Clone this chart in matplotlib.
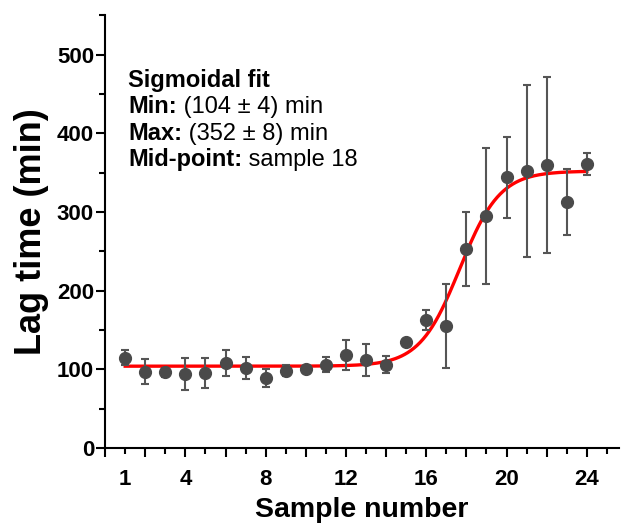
import matplotlib.pyplot as plt
import numpy as np

samples = np.arange(1, 25)
lag_time = [115, 97, 96, 94, 95, 108, 102, 89, 98, 101, 106, 118,
            112, 106, 135, 163, 155, 253, 295, 344, 352, 360, 313, 361]
lag_err = [10, 16, 6, 20, 19, 16, 14, 12, 7, 3, 10, 19,
           20, 11, 2, 13, 53, 47, 86, 52, 109, 112, 42, 14]

# sigmoidal fit parameters
fit_min = 104
fit_max = 352
fit_mid = 17.67
fit_slope = 1.0

x_labels = [1, 4, 8, 12, 16, 20, 24]

plt.rcParams["font.family"] = ["Liberation Sans", "DejaVu Sans"]

fig = plt.figure(figsize=(6.22, 5.25), dpi=100)
ax = fig.add_axes([0.169, 0.1467, 0.826, 0.824])

xf = np.linspace(1, 24, 300)
yf = fit_min + (fit_max - fit_min) / (1 + np.exp((fit_mid - xf) / fit_slope))
ax.plot(xf, yf, color="#ff0000", lw=2.4, zorder=2)

ax.errorbar(samples, lag_time, yerr=lag_err, fmt="o", color="#4a4a4a",
            ecolor="#555555", elinewidth=1.5, capsize=3, capthick=1.5,
            markersize=8.5, zorder=3)

ax.set_xlim(0, 25.6)
ax.set_ylim(0, 550)

ax.spines["top"].set_visible(False)
ax.spines["right"].set_visible(False)
for s in ["left", "bottom"]:
    ax.spines[s].set_linewidth(1.5)

ax.set_xticks(np.arange(0, 26, 2))
ax.set_xticklabels([str(v) if v in x_labels else "" for v in range(0, 26, 2)])
ax.set_xticks(np.arange(1, 26, 2), minor=True)
ax.set_xticklabels([str(v) if v in x_labels else "" for v in range(1, 26, 2)], minor=True)
ax.set_yticks(np.arange(0, 501, 100))
ax.set_yticks(np.arange(50, 551, 100), minor=True)

ax.tick_params(which="major", length=6.5, width=1.5, labelsize=16)
ax.tick_params(which="minor", length=4, width=1.5, labelsize=16)
ax.tick_params(axis="x", which="major", pad=8.5)
ax.tick_params(axis="x", which="minor", pad=11)
ax.tick_params(axis="y", which="major", pad=1.5)
for lab in ax.get_xticklabels(which="both") + ax.get_yticklabels():
    lab.set_fontweight("bold")

ax.set_xlabel("Sample number", fontsize=20.5, fontweight="bold", labelpad=5)
ax.set_ylabel("Lag time (min)", fontsize=26, fontweight="bold", labelpad=6)

lines = [("Sigmoidal fit", ""),
         ("Min:", " (104 ± 4) min"),
         ("Max:", " (352 ± 8) min"),
         ("Mid-point:", " sample 18")]
y0 = 459
for i, (b, r) in enumerate(lines):
    t = ax.text(1.15, y0 - 33.5 * i, b, fontsize=17, fontweight="bold",
                va="baseline", ha="left")
    if r:
        ax.annotate(r, xy=(1, 0), xycoords=t, fontsize=17,
                    va="bottom", ha="left")

fig.savefig("out.png", dpi=100)
